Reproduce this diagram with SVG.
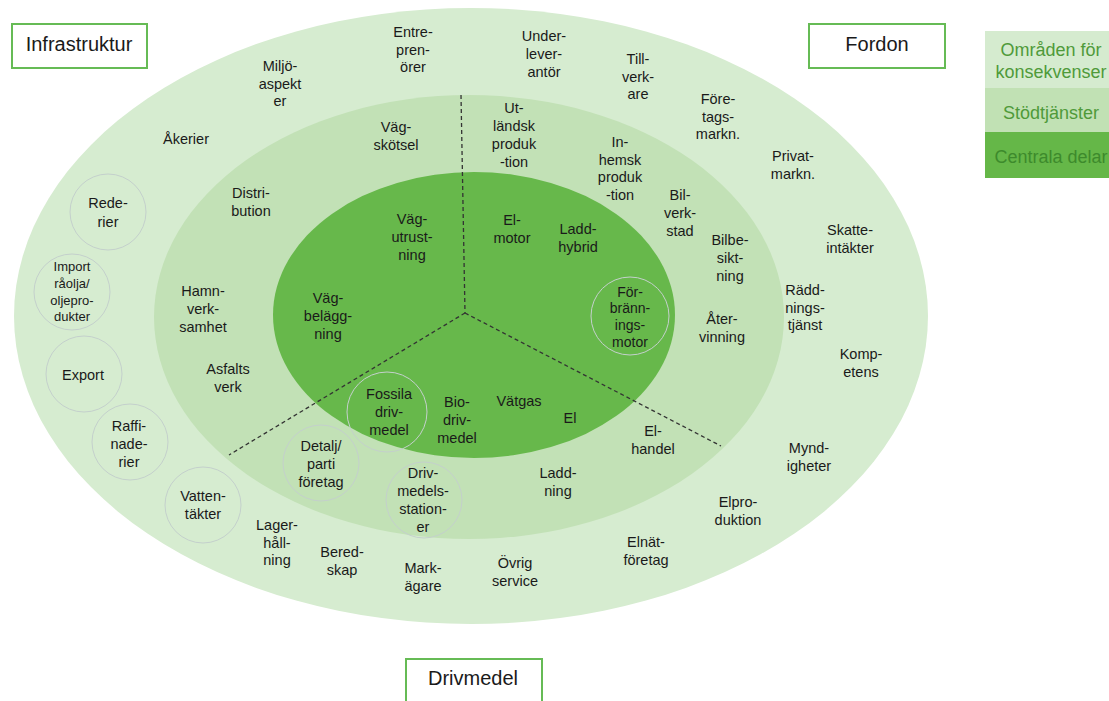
<svg xmlns="http://www.w3.org/2000/svg" width="1109" height="701" viewBox="0 0 1109 701">
<style>
.t{font-family:"Liberation Sans",Arial,sans-serif;font-size:14.5px;fill:#1a1a1a;text-anchor:middle}
.sm{font-size:13px}
.box{fill:#ffffff;stroke:#66bb55;stroke-width:2}
.bl{font-family:"Liberation Sans",Arial,sans-serif;font-size:20px;fill:#1a1a1a;text-anchor:middle}
.cir{fill:none;stroke:#c4d0cc;stroke-width:1}
.dash{stroke:#333333;stroke-width:1.3;stroke-dasharray:4 3;fill:none}
.lg{font-family:"Liberation Sans",Arial,sans-serif;font-size:18px;text-anchor:middle}
</style>
<rect width="1109" height="701" fill="#ffffff"/>
<g id="rings">
<ellipse id="outer" cx="471" cy="316" rx="457" ry="308" fill="#d6ecd0"/>
<ellipse id="middle" cx="469" cy="317" rx="315" ry="222" fill="#c2e1b6"/>
<ellipse id="inner" cx="474" cy="315" rx="201" ry="143" fill="#67b84b"/>
</g>
<g id="connectors">
<path class="dash" d="M461,95 L465,313"/>
<path class="dash" d="M465,313 L229,455"/>
<path class="dash" d="M465,313 L721,446"/>
</g>
<g id="circles">
<circle class="cir" cx="108" cy="212" r="38"/>
<circle class="cir" cx="72" cy="292" r="38"/>
<circle class="cir" cx="84" cy="374" r="38"/>
<circle class="cir" cx="130" cy="442" r="38"/>
<circle class="cir" cx="203" cy="505" r="38"/>
<circle class="cir" cx="321" cy="463" r="38"/>
<circle class="cir" cx="387" cy="412" r="40"/>
<circle class="cir" cx="424" cy="500" r="38"/>
<circle class="cir" cx="630" cy="316" r="39"/>
</g>
<g id="n-infrastruktur"><rect class="box" x="12" y="24" width="135" height="44"/><text class="bl" x="79" y="51">Infrastruktur</text></g>
<g id="n-fordon"><rect class="box" x="809" y="24" width="136" height="44"/><text class="bl" x="877" y="51">Fordon</text></g>
<g id="n-drivmedel"><rect class="box" x="406" y="659" width="136" height="50"/><text class="bl" x="473" y="685">Drivmedel</text></g>
<g id="legend">
<rect x="985" y="31" width="130" height="57" fill="#d5ebcf"/>
<rect x="985" y="88" width="130" height="44" fill="#c1e1b4"/>
<rect x="985" y="132" width="130" height="46" fill="#65b748"/>
<text class="lg" x="1051" y="56" fill="#4f9a3a"><tspan x="1051">Områden för</tspan><tspan x="1051" dy="21.5">konsekvenser</tspan></text>
<text class="lg" x="1051" y="119" fill="#4f9a3a">Stödtjänster</text>
<text class="lg" x="1051" y="162.5" fill="#3d8a2c">Centrala delar</text>
</g>
<g id="n-miljo"><text class="t" y="71"><tspan x="280">Miljö-</tspan><tspan x="280" dy="17.5">aspekt</tspan><tspan x="280" dy="17.5">er</tspan></text></g>
<g id="n-entre"><text class="t" y="37"><tspan x="413">Entre-</tspan><tspan x="413" dy="17.5">pren-</tspan><tspan x="413" dy="17.5">örer</tspan></text></g>
<g id="n-under"><text class="t" y="41"><tspan x="544">Under-</tspan><tspan x="544" dy="18">lever-</tspan><tspan x="544" dy="18">antör</tspan></text></g>
<g id="n-till"><text class="t" y="64"><tspan x="638">Till-</tspan><tspan x="638" dy="17.5">verk-</tspan><tspan x="638" dy="17.5">are</tspan></text></g>
<g id="n-foretagsmarkn"><text class="t" y="104"><tspan x="718">Före-</tspan><tspan x="718" dy="17.5">tags-</tspan><tspan x="718" dy="17.5">markn.</tspan></text></g>
<g id="n-privat"><text class="t" y="161"><tspan x="793">Privat-</tspan><tspan x="793" dy="18">markn.</tspan></text></g>
<g id="n-skatte"><text class="t" y="235"><tspan x="850">Skatte-</tspan><tspan x="850" dy="17.5">intäkter</tspan></text></g>
<g id="n-radd"><text class="t" y="295"><tspan x="805">Rädd-</tspan><tspan x="805" dy="17.5">nings-</tspan><tspan x="805" dy="17.5">tjänst</tspan></text></g>
<g id="n-komp"><text class="t" y="359"><tspan x="861">Komp-</tspan><tspan x="861" dy="17.5">etens</tspan></text></g>
<g id="n-mynd"><text class="t" y="453"><tspan x="809">Mynd-</tspan><tspan x="809" dy="17.5">igheter</tspan></text></g>
<g id="n-elprod"><text class="t" y="507"><tspan x="738">Elpro-</tspan><tspan x="738" dy="17.5">duktion</tspan></text></g>
<g id="n-elnat"><text class="t" y="547"><tspan x="646">Elnät-</tspan><tspan x="646" dy="17.5">företag</tspan></text></g>
<g id="n-ovrig"><text class="t" y="568"><tspan x="515">Övrig</tspan><tspan x="515" dy="17.5">service</tspan></text></g>
<g id="n-mark"><text class="t" y="573"><tspan x="423">Mark-</tspan><tspan x="423" dy="18">ägare</tspan></text></g>
<g id="n-bered"><text class="t" y="557"><tspan x="342">Bered-</tspan><tspan x="342" dy="17.5">skap</tspan></text></g>
<g id="n-lager"><text class="t" y="530"><tspan x="277">Lager-</tspan><tspan x="277" dy="17.5">håll-</tspan><tspan x="277" dy="17.5">ning</tspan></text></g>
<g id="n-vatten"><text class="t" y="501"><tspan x="203">Vatten-</tspan><tspan x="203" dy="17.5">täkter</tspan></text></g>
<g id="n-drivstation"><text class="t" y="478"><tspan x="423">Driv-</tspan><tspan x="423" dy="18">medels-</tspan><tspan x="423" dy="18">station-</tspan><tspan x="423" dy="18">er</tspan></text></g>
<g id="n-laddning"><text class="t" y="478"><tspan x="558">Ladd-</tspan><tspan x="558" dy="18">ning</tspan></text></g>
<g id="n-elhandel"><text class="t" y="436"><tspan x="653">El-</tspan><tspan x="653" dy="18">handel</tspan></text></g>
<g id="n-el"><text class="t" x="570" y="422.5">El</text></g>
<g id="n-vatgas"><text class="t" x="519" y="405.5">Vätgas</text></g>
<g id="n-bio"><text class="t" y="407"><tspan x="457">Bio-</tspan><tspan x="457" dy="18">driv-</tspan><tspan x="457" dy="18">medel</tspan></text></g>
<g id="n-fossila"><text class="t" y="399"><tspan x="389">Fossila</tspan><tspan x="389" dy="18">driv-</tspan><tspan x="389" dy="18">medel</tspan></text></g>
<g id="n-detalj"><text class="t" y="451"><tspan x="321">Detalj/</tspan><tspan x="321" dy="18">parti</tspan><tspan x="321" dy="18">företag</tspan></text></g>
<g id="n-raffi"><text class="t" y="431"><tspan x="129">Raffi-</tspan><tspan x="129" dy="18">nade-</tspan><tspan x="129" dy="18">rier</tspan></text></g>
<g id="n-export"><text class="t" x="83" y="380">Export</text></g>
<g id="n-asfalt"><text class="t" y="374"><tspan x="228">Asfalts</tspan><tspan x="228" dy="17.5">verk</tspan></text></g>
<g id="n-hamn"><text class="t" y="296"><tspan x="203">Hamn-</tspan><tspan x="203" dy="18">verk-</tspan><tspan x="203" dy="18">samhet</tspan></text></g>
<g id="n-vagbel"><text class="t" y="303"><tspan x="328">Väg-</tspan><tspan x="328" dy="18">belägg-</tspan><tspan x="328" dy="18">ning</tspan></text></g>
<g id="n-import"><text class="t sm" y="271"><tspan x="72">Import</tspan><tspan x="72" dy="16.8">råolja/</tspan><tspan x="72" dy="16.8">oljepro-</tspan><tspan x="72" dy="16.8">dukter</tspan></text></g>
<g id="n-rederier"><text class="t" y="208"><tspan x="108">Rede-</tspan><tspan x="108" dy="19">rier</tspan></text></g>
<g id="n-akerier"><text class="t" x="186" y="144">Åkerier</text></g>
<g id="n-distribution"><text class="t" y="198"><tspan x="251">Distri-</tspan><tspan x="251" dy="17.5">bution</tspan></text></g>
<g id="n-vagskotsel"><text class="t" y="132"><tspan x="396">Väg-</tspan><tspan x="396" dy="18">skötsel</tspan></text></g>
<g id="n-utlandsk"><text class="t" y="113"><tspan x="514">Ut-</tspan><tspan x="514" dy="18">ländsk</tspan><tspan x="514" dy="18">produk</tspan><tspan x="514" dy="18">-tion</tspan></text></g>
<g id="n-inhemsk"><text class="t" y="147"><tspan x="620">In-</tspan><tspan x="620" dy="17.7">hemsk</tspan><tspan x="620" dy="17.7">produk</tspan><tspan x="620" dy="17.7">-tion</tspan></text></g>
<g id="n-bilverkstad"><text class="t" y="199.5"><tspan x="680">Bil-</tspan><tspan x="680" dy="18">verk-</tspan><tspan x="680" dy="18">stad</tspan></text></g>
<g id="n-elmotor"><text class="t" y="225"><tspan x="512">El-</tspan><tspan x="512" dy="18">motor</tspan></text></g>
<g id="n-laddhybrid"><text class="t" y="234"><tspan x="578">Ladd-</tspan><tspan x="578" dy="18">hybrid</tspan></text></g>
<g id="n-vagutrust"><text class="t" y="224"><tspan x="412">Väg-</tspan><tspan x="412" dy="18">utrust-</tspan><tspan x="412" dy="18">ning</tspan></text></g>
<g id="n-bilbesikt"><text class="t" y="245"><tspan x="730">Bilbe-</tspan><tspan x="730" dy="18">sikt-</tspan><tspan x="730" dy="18">ning</tspan></text></g>
<g id="n-atervinning"><text class="t" y="324"><tspan x="722">Åter-</tspan><tspan x="722" dy="18">vinning</tspan></text></g>
<g id="n-forbranning"><text class="t" style="font-size:14px" y="296.7"><tspan x="630">För-</tspan><tspan x="630" dy="16.7">bränn-</tspan><tspan x="630" dy="16.7">ings-</tspan><tspan x="630" dy="16.7">motor</tspan></text></g>
</svg>
